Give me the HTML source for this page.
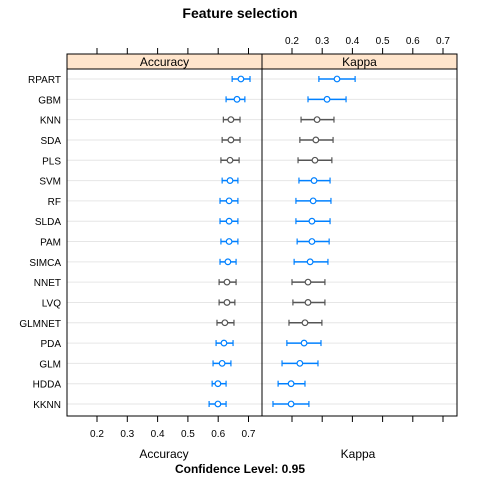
<!DOCTYPE html>
<html><head><meta charset="utf-8"><style>
body{margin:0;background:#fff;}
svg text{font-family:"Liberation Sans",Arial,sans-serif;}
</style></head><body>
<svg id="chart" width="480" height="480" xmlns="http://www.w3.org/2000/svg"></svg>
<script>
const models=["RPART","GBM","KNN","SDA","PLS","SVM","RF","SLDA","PAM","SIMCA","NNET","LVQ","GLMNET","PDA","GLM","HDDA","KKNN"];
const accMid=[0.675,0.662,0.642,0.642,0.639,0.639,0.636,0.636,0.636,0.632,0.629,0.629,0.622,0.619,0.613,0.599,0.599];
const accLo=[0.646,0.626,0.617,0.613,0.609,0.613,0.606,0.606,0.609,0.606,0.603,0.603,0.596,0.593,0.583,0.580,0.570];
const accHi=[0.705,0.688,0.672,0.672,0.669,0.665,0.665,0.665,0.665,0.659,0.659,0.655,0.652,0.649,0.642,0.626,0.626];
const kapMid=[0.349,0.316,0.283,0.279,0.276,0.273,0.270,0.266,0.266,0.260,0.253,0.253,0.243,0.240,0.226,0.197,0.197];
const kapLo=[0.289,0.253,0.230,0.226,0.220,0.223,0.213,0.213,0.217,0.207,0.200,0.203,0.190,0.183,0.167,0.154,0.137];
const kapHi=[0.409,0.379,0.339,0.336,0.332,0.326,0.329,0.326,0.323,0.319,0.309,0.309,0.299,0.296,0.286,0.243,0.256];
const grayRows=["KNN","SDA","PLS","NNET","LVQ","GLMNET"];
const ticks=[0.2,0.3,0.4,0.5,0.6,0.7];
const tickLabels=["0.2","0.3","0.4","0.5","0.6","0.7"];

const svg=document.getElementById('chart');
const NS="http://www.w3.org/2000/svg";
function mk(t,a,txt){const e=document.createElementNS(NS,t);for(const k in a)e.setAttribute(k,a[k]);if(txt!=null)e.textContent=txt;svg.appendChild(e);return e;}
const L=67,M=262,R=457,T=54,ST=69,B=416;
const xA=v=>97+(v-0.2)*303;
const xK=v=>292+(v-0.2)*302;
const yR=i=>79+i*(404-79)/16;

let e=mk('text',{x:240,y:18,'font-size':14,'font-weight':'bold','text-anchor':'middle'},'Feature selection');


// strips
e=mk('rect',{x:L,y:T,width:M-L,height:ST-T,fill:'#ffe5cc',stroke:'#000'});

e=mk('rect',{x:M,y:T,width:R-M,height:ST-T,fill:'#ffe5cc',stroke:'#000'});

e=mk('text',{x:(L+M)/2,y:66,'font-size':12,'text-anchor':'middle'},'Accuracy');

e=mk('text',{x:(M+R)/2,y:66,'font-size':12,'text-anchor':'middle'},'Kappa');


// grid + labels
models.forEach((m,i)=>{
  const y=yR(i);
  let g=mk('line',{x1:L,x2:R,y1:y,y2:y,stroke:'#e6e6e6','stroke-width':1});
  
  let t=mk('text',{x:61,y:y+4,'font-size':10,'text-anchor':'end'},m);
  
});

// panel borders
e=mk('rect',{x:L,y:T,width:M-L,height:B-T,fill:'none',stroke:'#000'});

e=mk('rect',{x:M,y:T,width:R-M,height:B-T,fill:'none',stroke:'#000'});


// ticks
ticks.forEach((v,i)=>{
  const xa=xA(v),xk=xK(v);
  let a=mk('line',{x1:xa,x2:xa,y1:T-6,y2:T,stroke:'#000'});
  
  a=mk('line',{x1:xa,x2:xa,y1:B,y2:B+6,stroke:'#000'});
  
  a=mk('text',{x:xa,y:437,'font-size':10,'text-anchor':'middle'},tickLabels[i]);
  
  a=mk('line',{x1:xk,x2:xk,y1:T-6,y2:T,stroke:'#000'});
  
  a=mk('line',{x1:xk,x2:xk,y1:B,y2:B+6,stroke:'#000'});
  
  a=mk('text',{x:xk,y:44,'font-size':10,'text-anchor':'middle'},tickLabels[i]);
  
});

function series(mid,lo,hi,xf,name){
  models.forEach((m,i)=>{
    const y=yR(i),c=grayRows.includes(m)?'#555555':'#0080ff';
    let l=mk('line',{x1:xf(lo[i]),x2:xf(hi[i]),y1:y,y2:y,stroke:c,'stroke-width':1.5});
    
    [lo[i],hi[i]].forEach(v=>{
      let cap=mk('line',{x1:xf(v),x2:xf(v),y1:y-3,y2:y+3,stroke:c,'stroke-width':1.2});
      
    });
    let p=mk('circle',{cx:xf(mid[i]),cy:y,r:2.8,fill:'#fff',stroke:c,'stroke-width':1.2});
    
  });
}
series(accMid,accLo,accHi,xA,'accuracy');
series(kapMid,kapLo,kapHi,xK,'kappa');

e=mk('text',{x:164,y:458,'font-size':12,'text-anchor':'middle'},'Accuracy');

e=mk('text',{x:358,y:458,'font-size':12,'text-anchor':'middle'},'Kappa');

e=mk('text',{x:240,y:473,'font-size':12,'font-weight':'bold','text-anchor':'middle'},'Confidence Level: 0.95');

</script>
</body></html>
